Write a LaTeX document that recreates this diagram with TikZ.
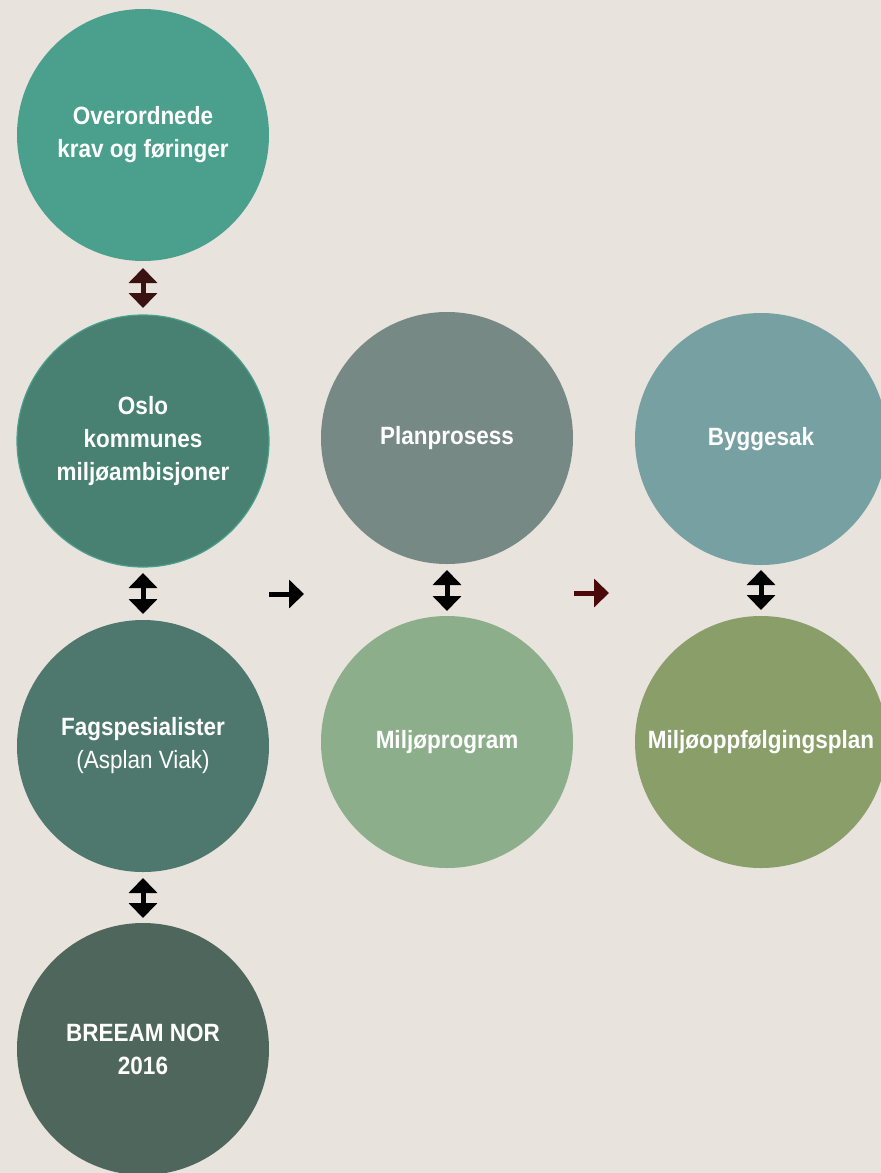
\documentclass[tikz,border=0pt]{standalone}
\usepackage{fontspec}
\setmainfont{Liberation Sans}[FakeStretch=0.9]
\usetikzlibrary{arrows.meta, positioning}

\definecolor{bg}{HTML}{E8E3DC}
\definecolor{cOver}{HTML}{4AA08C}
\definecolor{cOslo}{HTML}{488072}
\definecolor{cFag}{HTML}{4E786E}
\definecolor{cBre}{HTML}{4E665C}
\definecolor{cPlan}{HTML}{778985}
\definecolor{cMprog}{HTML}{8CAE8A}
\definecolor{cBygg}{HTML}{77A0A2}
\definecolor{cMopp}{HTML}{8A9E6A}
\definecolor{darkbrown}{HTML}{3B1212}
\definecolor{darkred}{HTML}{4A0A0A}

\begin{document}
\begin{tikzpicture}[
  x=0.5pt, y=-0.5pt,
  bubble/.style={circle, minimum size=126pt, inner sep=0pt, outer sep=0pt,
    text=white, align=center, font=\fontsize{12.5}{16.5}\selectfont\bfseries},
  link/.style={line width=2.5pt, {Triangle[length=7.5pt,width=14pt]}-{Triangle[length=7.5pt,width=14pt]}},
  flow/.style={line width=2.5pt, -{Triangle[length=7.5pt,width=14pt]}}]

  \fill[bg] (0,0) rectangle (881,1173);
  \clip (0,0) rectangle (881,1173);

  % left column
  \node[bubble, fill=cOver](over) at (143,135) {Overordnede\\krav og føringer};
  \node[bubble, fill=cOslo, draw=cOver, line width=0.6pt](oslo) at (143,441) {Oslo\\kommunes\\miljøambisjoner};
  \node[bubble, fill=cFag](fag) at (143,746) {Fagspesialister\\{\mdseries (Asplan Viak)}};
  \node[bubble, fill=cBre](breeam) at (143,1049) {BREEAM NOR\\2016};

  % middle and right columns
  \node[bubble, fill=cPlan](plan) at (447,438) {Planprosess};
  \node[bubble, fill=cMprog](mprog) at (447,742) {Miljøprogram};
  \node[bubble, fill=cBygg](bygg) at (761,439) {Byggesak};
  \node[bubble, fill=cMopp](mopp) at (761,742) {Miljøoppfølgingsplan};

  \draw[link, darkbrown, shorten <=3.5pt, shorten >=3.5pt] (over) -- (oslo);
  \draw[link, black, shorten <=3pt, shorten >=3pt] (oslo) -- (fag);
  \draw[link, black, shorten <=3pt, shorten >=2.5pt] (fag) -- (breeam);
  \draw[link, black, shorten <=3pt, shorten >=2.5pt] (plan) -- (mprog);
  \draw[link, black, shorten <=2.5pt, shorten >=3pt] (bygg) -- (mopp);

  \coordinate (s1) at (269,594);
  \coordinate (e1) at (304,594);
  \coordinate (s2) at (574,593);
  \coordinate (e2) at (609,593);
  \draw[flow, black] (s1) -- (e1);
  \draw[flow, darkred] (s2) -- (e2);
\end{tikzpicture}
\end{document}
